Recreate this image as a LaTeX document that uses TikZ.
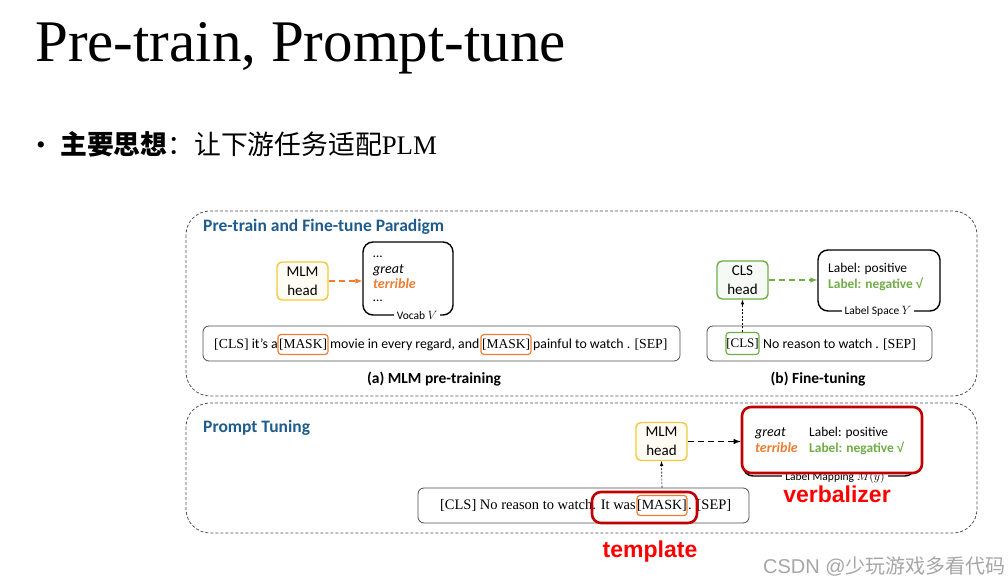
\documentclass[tikz,border=0pt]{standalone}
\usepackage{fontspec}
\setmainfont{Carlito}
\newfontfamily\serifrm{Liberation Serif}
\newfontfamily\arialfont{Liberation Sans}
\newfontfamily\cjk{Noto Sans CJK SC}
\usetikzlibrary{arrows}

\definecolor{titleblue}{RGB}{31,92,139}
\definecolor{headyellow}{RGB}{242,200,60}
\definecolor{maskorange}{RGB}{237,125,49}
\definecolor{labelgreen}{RGB}{112,173,71}
\definecolor{markred}{RGB}{192,0,0}
\definecolor{framegray}{RGB}{80,80,80}

\newcommand{\tok}[1]{{\serifrm #1}}
\newcommand{\chk}{{\arialfont √}}

\begin{document}
\begin{tikzpicture}[x=1pt,y=-1pt,>=latex]
	\tikzstyle{every node} = [inner sep=0pt];
	\tikzstyle{frame} = [draw=framegray, dash pattern=on 3pt off 2pt, line width=0.8pt, rounded corners=24pt];
	\tikzstyle{panel} = [anchor=base west, text=titleblue, font=\bfseries\fontsize{17.5}{20}\selectfont];
	\tikzstyle{headbox} = [draw=headyellow, line width=1.4pt, rounded corners=5pt, fill=headyellow!6, minimum width=51pt, minimum height=38pt, align=center, font=\fontsize{15}{19}\selectfont];
	\tikzstyle{clsbox} = [headbox, draw=labelgreen, fill=labelgreen!6];
	\tikzstyle{setbox} = [draw=black, line width=1.4pt, rounded corners=10pt];
	\tikzstyle{sentence} = [draw=black!70, line width=0.8pt, rounded corners=6pt, minimum height=35pt];
	\tikzstyle{tokbox} = [draw=maskorange, line width=1.2pt, rounded corners=3pt, minimum width=50pt, minimum height=20pt, font=\serifrm\fontsize{13.5}{16}\selectfont];
	\tikzstyle{words} = [anchor=base west, font=\fontsize{13.8}{16}\selectfont];
	\tikzstyle{serifwords} = [font=\serifrm\fontsize{14.5}{17}\selectfont];
	\tikzstyle{item} = [anchor=base west, font=\fontsize{13.4}{16}\selectfont];
	\tikzstyle{small} = [fill=white, inner xsep=3pt, inner ysep=1pt, font=\fontsize{11.5}{13}\selectfont];
	\tikzstyle{caption} = [font=\bfseries\fontsize{15.5}{18}\selectfont];
	\tikzstyle{redbox} = [draw=markred, line width=2.6pt, rounded corners=9pt];
	\tikzstyle{redword} = [text=red, font=\arialfont\bfseries\fontsize{23}{26}\selectfont];
	\tikzstyle{flow} = [->, dash pattern=on 6pt off 4pt, line width=1.4pt];
	\tikzstyle{uplink} = [->, dash pattern=on 2pt off 1.5pt, line width=0.6pt];

	\useasboundingbox (0,0) rectangle (1008,585);

	% slide heading
	\node[anchor=base west, font=\serifrm\fontsize{59}{64}\selectfont] (heading) at (35,62) {Pre-train, Prompt-tune};
	\node[font=\serifrm\fontsize{26}{28}\selectfont] (dot) at (41,148) {•};
	\node[anchor=base west, font=\fontsize{26.8}{30}\selectfont] (idea) at (60,155) {{\cjk\bfseries 主要思想}{\cjk ：让下游任务适配}{\serifrm PLM}};

	% dashed panels
	\draw[frame] (186,211) rectangle (977,396);
	\draw[frame] (186,403) rectangle (977,533);
	\node[panel] (paradigm) at (203,232) {Pre-train and Fine-tune Paradigm};
	\node[panel] (prompting) at (203,432) {Prompt Tuning};

	% (a) MLM pre-training
	\node[sentence, minimum width=477pt] (sentA) at (441.5,343.5) {};
	\node[words] (wordsA1) at (214,348) {\tok{[CLS]} it’s a};
	\node[tokbox] (maskA) at (303,344.5) {[MASK]};
	\node[words] (wordsA2) at (330,348) {movie in every regard, and};
	\node[tokbox] (maskB) at (506,344.5) {[MASK]};
	\node[words] (wordsA3) at (533,348) {painful to watch . \tok{[SEP]}};
	\node[headbox] (mlmA) at (302.5,281) {MLM\\head};
	\node[setbox, minimum width=90pt, minimum height=73pt] (vocab) at (408,278.5) {};
	\node[small] (vocabName) at (417,315) {Vocab $V$};
	\node[item] (dotsA) at (373,257) {…};
	\node[item, font=\itshape\fontsize{14}{16}\selectfont] (greatA) at (373,273) {great};
	\node[item, text=maskorange, font=\bfseries\itshape\fontsize{14}{16}\selectfont] (terribleA) at (373,288) {terrible};
	\node[item] (dotsB) at (373,301) {…};
	\draw[flow, draw=maskorange] (mlmA.east) -- (mlmA.east -| vocab.west);
	\node[caption] (capA) at (434,379) {(a) MLM pre-training};

	% (b) Fine-tuning
	\node[sentence, minimum width=225pt] (sentB) at (819.5,343.5) {};
	\node[tokbox, draw=labelgreen, minimum width=33pt, minimum height=22pt, font=\serifrm\fontsize{13}{15}\selectfont] (clsTok) at (742.5,343.5) {[CLS]};
	\node[words] (wordsB) at (763,348) {No reason to watch . \tok{[SEP]}};
	\node[clsbox] (clsHead) at (742.5,280) {CLS\\head};
	\node[setbox, minimum width=122pt, minimum height=61pt] (labels) at (879,280.5) {};
	\node[small] (labelsName) at (878,311) {Label Space $Y$};
	\node[item] (posB) at (828,272) {Label: positive};
	\node[item, text=labelgreen, font=\bfseries\fontsize{13.4}{16}\selectfont] (negB) at (828,288) {Label: negative \chk};
	\draw[flow, draw=labelgreen] (clsHead.east) -- (clsHead.east -| labels.west);
	\draw[uplink] (clsTok.north) -- (clsHead.south);
	\node[caption] (capB) at (818,379) {(b) Fine-tuning};

	% Prompt tuning
	\node[sentence, minimum width=331pt] (sentC) at (583.5,505.5) {};
	\node[serifwords, anchor=base east] (wordsC1) at (636,509.5) {[CLS] No reason to watch. It was};
	\node[tokbox, font=\serifrm\fontsize{14}{16}\selectfont] (maskC) at (662,505.5) {[MASK]};
	\node[serifwords, anchor=base west] (wordsC2) at (688,509.5) {. [SEP]};
	\node[redbox, minimum width=105pt, minimum height=31pt] (template) at (644.5,507.5) {};
	\node[redword] (templateName) at (650,552) {template};
	\node[headbox] (mlmC) at (661.5,441.5) {MLM\\head};
	\node[setbox, minimum width=172pt, minimum height=66pt] (mapping) at (829,443) {};
	\node[small] (mappingName) at (835,477) {Label Mapping $M(y)$};
	\node[redbox, fill=white, minimum width=180pt, minimum height=66pt] (verbal) at (832,440) {};
	\node[item, font=\itshape\fontsize{14}{16}\selectfont] (greatC) at (755,436) {great};
	\node[item, text=maskorange, font=\bfseries\itshape\fontsize{14}{16}\selectfont] (terribleC) at (755,452) {terrible};
	\node[item] (posC) at (809,436) {Label: positive};
	\node[item, text=labelgreen, font=\bfseries\fontsize{13.4}{16}\selectfont] (negC) at (809,452) {Label: negative \chk};
	\draw[flow] (mlmC.east) -- (mlmC.east -| verbal.west);
	\draw[uplink] (maskC |- sentC.north) -- (mlmC.south);
	\node[redword] (verbalName) at (837,494) {verbalizer};

	% watermark
	\node[anchor=base west, text=black!35, font=\arialfont\fontsize{20}{22}\selectfont] (mark) at (763,573) {CSDN @{\cjk 少玩游戏多看代码}};
\end{tikzpicture}
\end{document}
